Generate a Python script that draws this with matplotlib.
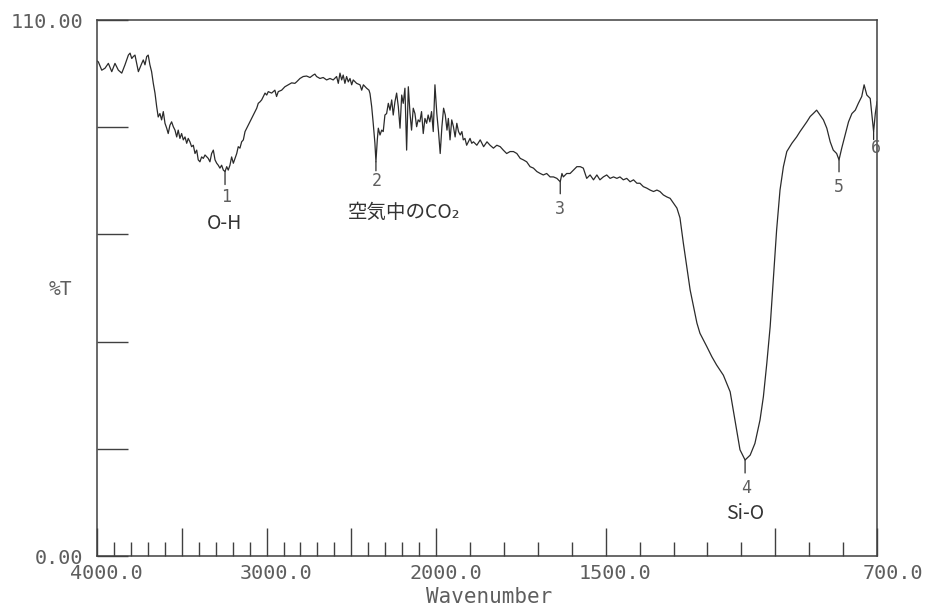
import numpy as np
import matplotlib
matplotlib.use("Agg")
import matplotlib.pyplot as plt
from matplotlib.transforms import ScaledTranslation

plt.rcParams.update({
    "font.family": ["DejaVu Sans Mono"],
    "axes.linewidth": 1.1,
})

# IR spectrum (wavenumber in cm-1, %T)
wavenumber = [
    4000, 3992, 3972, 3953, 3933, 3913, 3894, 3874, 3854, 3835, 3815, 3805, 3795, 3786, 3776,
    3756, 3736, 3727, 3717, 3707, 3698, 3688, 3678, 3668, 3658, 3648, 3639, 3629, 3619, 3609,
    3599, 3589, 3580, 3570, 3560, 3550, 3540, 3530, 3521, 3511, 3501, 3491, 3481, 3471, 3462,
    3452, 3442, 3432, 3422, 3412, 3403, 3393, 3383, 3373, 3363, 3344, 3334, 3324, 3314, 3304,
    3294, 3285, 3275, 3265, 3255, 3245, 3235, 3226, 3216, 3206, 3196, 3186, 3176, 3167, 3157,
    3147, 3137, 3127, 3117, 3108, 3098, 3088, 3078, 3068, 3058, 3049, 3039, 3029, 3019, 3009,
    2999, 2990, 2970, 2951, 2941, 2931, 2911, 2892, 2872, 2852, 2833,
    2823, 2803, 2784, 2764, 2744, 2725, 2715, 2705, 2685, 2666, 2646, 2626, 2607, 2587, 2577,
    2567, 2557, 2548, 2538, 2528, 2518, 2508, 2498, 2489, 2469, 2449, 2439, 2429, 2410, 2396,
    2390, 2380, 2371, 2361, 2355, 2347, 2341, 2331, 2321, 2312, 2302, 2292, 2282, 2272, 2262,
    2253, 2243, 2233, 2223, 2213, 2203, 2194, 2184, 2174, 2164, 2154, 2145, 2135, 2125, 2115,
    2106, 2096, 2086, 2076, 2066, 2056, 2047, 2037, 2027, 2017, 2007, 1998, 1993, 1988, 1983,
    1978, 1973, 1968, 1964, 1959, 1954, 1949, 1944, 1939, 1934, 1929, 1924, 1920, 1915, 1910,
    1900, 1895, 1890, 1880, 1870, 1860, 1850,
    1841, 1831, 1821, 1811, 1802, 1792, 1782, 1772, 1762, 1752, 1743, 1733, 1723, 1713, 1703,
    1693, 1684, 1674, 1664, 1654, 1644, 1634, 1629, 1625, 1615, 1605, 1595, 1585, 1575, 1566,
    1556, 1546, 1536, 1526, 1517, 1507, 1497, 1487, 1477, 1467, 1458, 1448, 1438, 1428, 1418,
    1408, 1399, 1389, 1379, 1369, 1359, 1349, 1340, 1330, 1320, 1310, 1300, 1290, 1281,
    1271, 1261, 1251, 1241, 1231, 1222, 1202, 1187, 1173, 1153, 1133, 1124, 1114, 1104, 1089,
    1074, 1060, 1045, 1035, 1025, 1015, 1006, 996, 986, 976, 966, 951, 937, 927, 917,
    907, 897, 888, 878, 868, 858, 848, 838, 829, 819, 812, 804, 794, 784, 774,
    764, 755, 745, 738, 730, 720, 710, 705, 700,
]
transmittance = [
    101.6, 101.4, 99.7, 100.1, 101.1, 99.4, 101.1, 99.7, 99.1, 100.8, 102.8, 103.2, 102.1, 102.5, 102.8,
    99.4, 101.1, 101.8, 100.8, 102.5, 102.8, 100.8, 99.4, 97.0, 95.0, 92.2, 90.1, 90.8, 89.5, 91.2,
    88.8, 87.8, 86.7, 88.4, 89.1, 88.1, 87.4, 86.0, 87.4, 85.7, 86.7, 85.4, 86.0, 84.7, 85.7,
    85.0, 84.0, 84.3, 82.6, 83.3, 81.3, 80.9, 81.9, 81.6, 82.3, 81.6, 80.9, 82.6, 83.3, 81.3,
    80.6, 80.2, 79.6, 80.2, 79.2, 78.9, 79.9, 79.2, 80.2, 81.9, 80.6, 81.6, 82.6, 84.0, 83.7,
    85.0, 85.4, 87.1, 87.8, 88.4, 89.1, 89.8, 90.5, 91.2, 91.9, 92.9, 93.2, 93.6, 94.3, 95.0,
    94.6, 95.3, 95.0, 95.6, 94.3, 95.3, 95.6, 96.3, 96.7, 97.1, 97.0,
    97.3, 98.0, 98.4, 98.5, 98.2, 98.7, 98.9, 98.4, 98.0, 98.2, 97.7, 98.0, 97.7, 98.4, 97.0,
    99.1, 97.7, 98.7, 97.0, 98.4, 97.3, 98.0, 96.7, 97.7, 97.0, 96.7, 95.6, 96.7, 96.0, 95.6,
    94.9, 92.2, 88.8, 84.7, 80.9, 85.4, 87.8, 86.4, 87.4, 87.1, 90.5, 90.8, 92.9, 91.5, 93.6,
    90.5, 93.2, 95.0, 92.2, 87.8, 94.6, 92.9, 96.0, 83.3, 96.3, 90.8, 87.4, 91.9, 90.8, 88.1,
    89.5, 89.1, 91.2, 86.7, 89.8, 88.8, 90.5, 89.1, 91.2, 87.1, 96.7, 90.8, 87.1, 82.6, 88.1,
    91.9, 90.5, 87.4, 89.8, 85.4, 89.5, 88.1, 86.0, 88.8, 87.1, 86.4, 87.1, 85.4, 85.7, 84.3,
    85.7, 84.7, 85.0, 84.3, 85.4, 84.0, 85.0,
    84.3, 83.7, 84.3, 84.0, 83.3, 82.6, 83.0, 83.0, 82.6, 81.6, 81.3, 80.9, 79.9, 79.6, 78.9,
    78.5, 78.2, 78.5, 77.8, 77.8, 77.5, 76.8, 78.5, 77.8, 78.5, 78.5, 79.2, 79.9, 79.9, 79.6,
    77.5, 78.2, 77.2, 78.2, 77.2, 77.8, 78.2, 77.5, 77.8, 77.5, 77.8, 77.2, 77.5, 76.8, 77.2,
    76.5, 76.5, 75.8, 75.5, 75.1, 74.8, 75.1, 74.8, 74.1, 73.7, 73.4, 72.4, 71.4, 69.4,
    64.2, 59.4, 54.6, 51.2, 47.8, 45.7, 43.0, 40.9, 39.2, 37.1, 33.7, 30.0, 25.9, 21.8, 19.7,
    20.7, 23.1, 27.9, 32.7, 39.5, 47.1, 56.6, 66.9, 75.1, 79.9, 83.0, 84.7, 86.0, 87.1, 88.1,
    89.1, 90.2, 90.8, 91.5, 90.5, 89.5, 87.8, 85.0, 83.3, 82.6, 81.3, 83.7, 86.4, 89.1, 90.8,
    91.5, 92.9, 94.3, 96.7, 94.6, 93.9, 87.1, 90.8, 93.2,
]

# labelled peaks
peak_wn = [3245, 2355, 1634, 1089, 812, 710]
peak_t = [78.9, 80.9, 76.8, 19.7, 81.3, 87.1]
peak_num = ["1", "2", "3", "4", "5", "6"]
peak_name = ["O-H", "空気中のCO₂", "", "Si-O", "", ""]

# label layout (pixels below the peak): tick length, number offset, name offset, name x-shift
peak_layout = [
    (13, 25, 52, 0),
    (9, 19, 51, 28),
    (12, 27, 0, 0),
    (13, 28, 53, 0),
    (12, 27, 0, 0),
    (8, 16, 0, 2),
]

x_major = [4000, 3500, 3000, 2500, 2000, 1500, 1000, 700]
x_major_labels = ["4000.0", "", "3000.0", "", "2000.0", "1500.0", "", "700.0"]
x_minor = [w for w in range(3900, 700, -100) if w % 500 != 0]
y_ticks = [0, 22, 44, 66, 88, 110]
y_labels = ["0.00", "", "", "", "", "110.00"]

LINE = "#2b2b2b"
AXC = "#404040"
TXT = "#5e5e5e"


# instrument scale: the chart is expanded x2 below 2000 cm-1
def fwd(w):
    w = np.asarray(w, dtype=float)
    return np.where(w >= 2000, w, 2 * w - 2000)


def inv(u):
    u = np.asarray(u, dtype=float)
    return np.where(u >= 2000, u, (u + 2000) / 2)


fig = plt.figure(figsize=(9.28, 6.06), dpi=100)
ax = fig.add_axes([97 / 928, 1 - 556 / 606, 780 / 928, 536 / 606])

ax.set_xscale("function", functions=(fwd, inv))
ax.plot(wavenumber, transmittance, color=LINE, linewidth=0.9)
ax.set_xlim(4000, 700)
ax.set_ylim(0, 110)

for s in ax.spines.values():
    s.set_color(AXC)

ax.set_xticks(x_major)
ax.set_xticklabels(x_major_labels)
ax.set_xticks(x_minor, minor=True)
ax.set_yticks(y_ticks)
ax.set_yticklabels(y_labels)

ax.tick_params(axis="x", which="major", direction="in", length=20, width=1.0,
               color=AXC, labelcolor=TXT, labelsize=14.5, pad=6)
ax.tick_params(axis="x", which="minor", direction="in", length=10, width=1.0, color=AXC)
ax.tick_params(axis="y", which="major", direction="in", length=22, width=1.0,
               color=AXC, labelcolor=TXT, labelsize=14.5, pad=10)

# the recorder prints the x labels shifted right of their ticks
shift = ScaledTranslation(46 / 100, 0, fig.dpi_scale_trans)
for lab in ax.get_xticklabels():
    lab.set_horizontalalignment("right")
    lab.set_transform(lab.get_transform() + shift)

ax.text(-37 / 780, 0.497, "%T", transform=ax.transAxes, ha="center", va="center",
        fontsize=14, color=TXT)
ax.text(0.503, -41 / 536, "Wavenumber", transform=ax.transAxes, ha="center", va="center",
        fontsize=15, color=TXT)

for w, t, num, name, (tick, dn, dname, dx) in zip(peak_wn, peak_t, peak_num, peak_name, peak_layout):
    ax.annotate("", xy=(w, t), xytext=(0, -tick), textcoords="offset pixels",
                arrowprops=dict(arrowstyle="-", color=LINE, lw=0.9, shrinkA=0, shrinkB=0))
    ax.annotate(num, xy=(w, t), xytext=(dx if name == "" else 1, -dn), textcoords="offset pixels",
                ha="center", va="center", fontsize=12, color=TXT, annotation_clip=False)
    if name:
        ax.annotate(name, xy=(w, t), xytext=(dx, -dname), textcoords="offset pixels",
                    ha="center", va="center", fontsize=14, color="#333333",
                    family=["Noto Sans CJK JP", "DejaVu Sans"])

fig.savefig("out.png", dpi=100, facecolor="white")
